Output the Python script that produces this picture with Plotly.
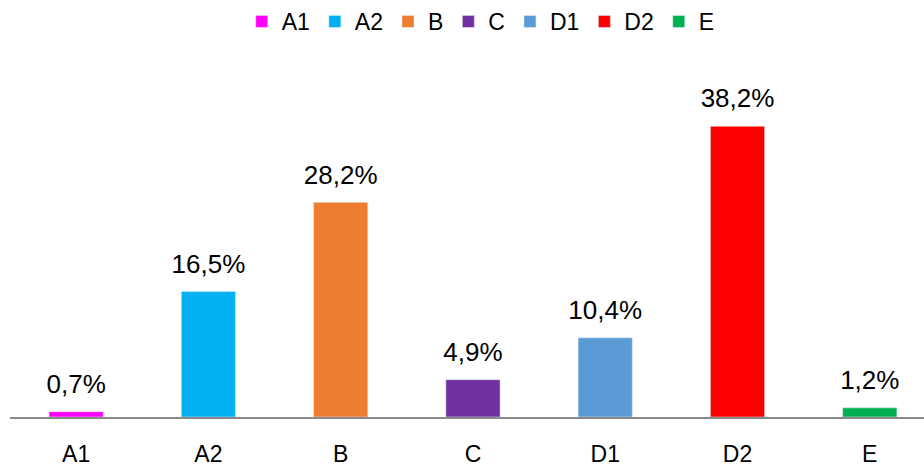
import plotly.graph_objects as go

categories = ["A1", "A2", "B", "C", "D1", "D2", "E"]
values = [0.7, 16.5, 28.2, 4.9, 10.4, 38.2, 1.2]
colors = ["#FF00FF", "#00B0F0", "#ED7D31", "#7030A0", "#5B9BD5", "#FF0000", "#00B050"]
labels = [f"{v:.1f}%".replace(".", ",") for v in values]

FONT = "Liberation Sans, Arial, sans-serif"

fig = go.Figure()
for cat, val, col in zip(categories, values, colors):
    fig.add_trace(go.Bar(x=[cat], y=[val], name=cat, marker_color=col,
                         width=0.41, hoverinfo="skip"))

fig.add_trace(go.Scatter(x=categories, y=values, mode="markers+text", text=labels,
                         textposition="top center",
                         textfont=dict(size=26, color="#000000", family=FONT),
                         marker=dict(size=18, opacity=0), showlegend=False,
                         cliponaxis=False, hoverinfo="skip"))

fig.update_layout(
    width=924, height=468,
    margin=dict(l=10, r=0, t=60, b=51),
    paper_bgcolor="white", plot_bgcolor="white",
    barmode="overlay",
    font=dict(family=FONT, size=23, color="#000000"),
    showlegend=True,
    legend=dict(orientation="h", x=0.515, xanchor="center", y=1.0, yref="container",
                yanchor="top", font=dict(size=23), itemclick=False),
)
fig.update_xaxes(range=[-0.5, 6.41], showgrid=False, showline=True, linecolor="#898989",
                 linewidth=2, ticks="outside", ticklen=15, tickcolor="rgba(0,0,0,0)",
                 tickfont=dict(size=23), zeroline=False, fixedrange=True, automargin=False)
fig.update_yaxes(range=[0, 46.9], showgrid=False, showticklabels=False, zeroline=False,
                 showline=False, fixedrange=True, automargin=False)

fig.write_html("out.html", config={"displayModeBar": False},
               post_script="document.body.style.margin='0px';document.body.style.overflow='hidden';")
